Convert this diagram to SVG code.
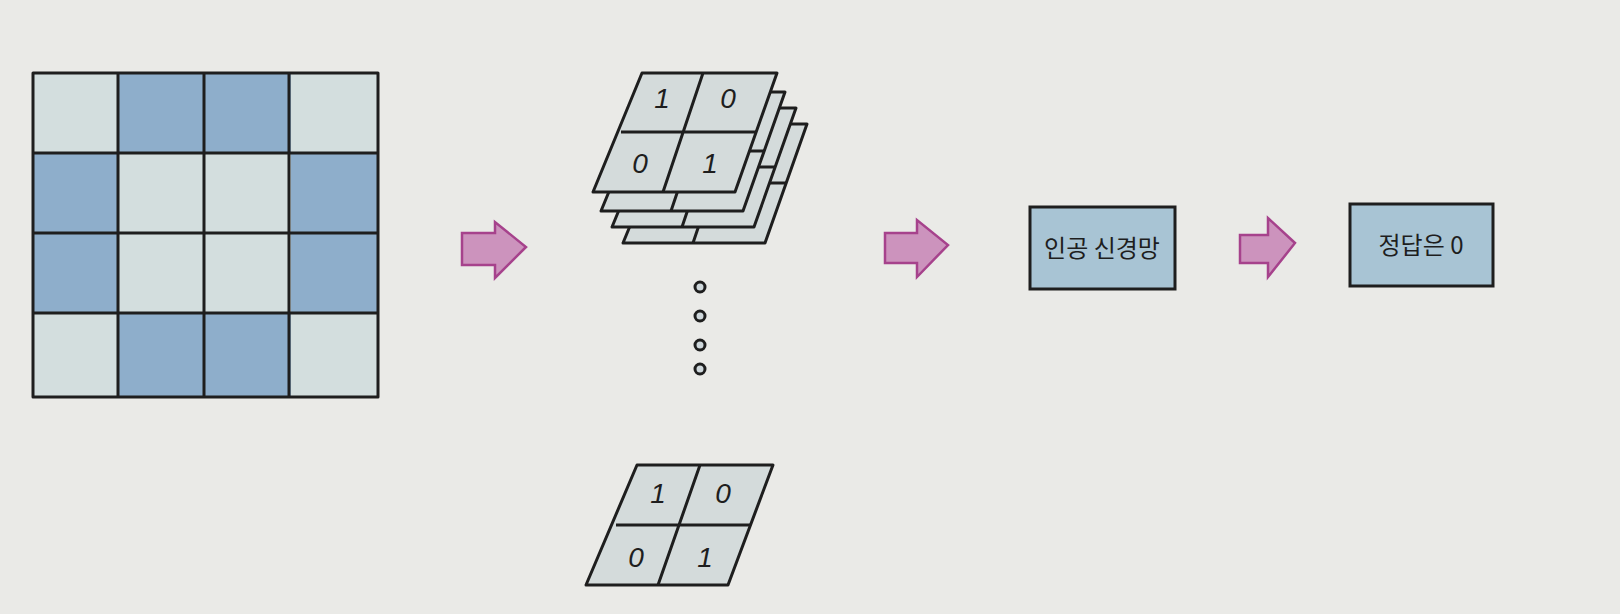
<svg xmlns="http://www.w3.org/2000/svg" width="1620" height="614" viewBox="0 0 1620 614">
<style>
.ln{stroke:#1e1e1e;stroke-width:3;stroke-linejoin:round;}
.lt{fill:#d3dede;}
.dk{fill:#8eaecb;}
.pl{fill:#d4dbdb;stroke:#1e1e1e;stroke-width:3;stroke-linejoin:round;}
.dv{fill:none;stroke:#1e1e1e;stroke-width:3;}
.dg{font-family:"Liberation Sans",sans-serif;font-style:italic;font-size:28px;fill:#1e1e1e;text-anchor:middle;}
.bx{fill:#a8c4d4;stroke:#1e1e1e;stroke-width:3;}
.lb{font-family:"Noto Sans CJK KR","Noto Sans",sans-serif;font-size:24px;fill:#1e1e1e;text-anchor:middle;}
.ar{fill:#cc93bd;stroke:#a6428c;stroke-width:2.5;stroke-linejoin:miter;}
.dot{fill:#cfd8dc;stroke:#1e1e1e;stroke-width:3;}
</style>
<rect width="1620" height="614" fill="#eaeae7"/>

<g id="grid">
<rect class="lt" x="33" y="73" width="86" height="81"/>
<rect class="dk" x="119" y="73" width="86" height="81"/>
<rect class="dk" x="205" y="73" width="86" height="81"/>
<rect class="lt" x="291" y="73" width="87" height="81"/>
<rect class="dk" x="33" y="154" width="86" height="80"/>
<rect class="lt" x="119" y="154" width="86" height="80"/>
<rect class="lt" x="205" y="154" width="86" height="80"/>
<rect class="dk" x="291" y="154" width="87" height="80"/>
<rect class="dk" x="33" y="234" width="86" height="80"/>
<rect class="lt" x="119" y="234" width="86" height="80"/>
<rect class="lt" x="205" y="234" width="86" height="80"/>
<rect class="dk" x="291" y="234" width="87" height="80"/>
<rect class="lt" x="33" y="314" width="86" height="83"/>
<rect class="dk" x="119" y="314" width="86" height="83"/>
<rect class="dk" x="205" y="314" width="86" height="83"/>
<rect class="lt" x="291" y="314" width="87" height="83"/>
<rect x="33" y="73" width="345" height="324" fill="none" class="ln"/>
<path class="ln" fill="none" d="M118 73V397M204 73V397M289 73V397M33 153H378M33 233H378M33 313H378"/>
</g>

<g id="feature-stack">
<g transform="translate(30,51)">
<polygon class="pl" points="642,73 777,73 735,192 593,192"/>
<path class="dv" d="M703 73L663 192M621 132H756"/>
</g>
<g transform="translate(19,35)">
<polygon class="pl" points="642,73 777,73 735,192 593,192"/>
<path class="dv" d="M703 73L663 192M621 132H756"/>
</g>
<g transform="translate(8,19)">
<polygon class="pl" points="642,73 777,73 735,192 593,192"/>
<path class="dv" d="M703 73L663 192M621 132H756"/>
</g>
<polygon class="pl" points="642,73 777,73 735,192 593,192"/>
<path class="dv" d="M703 73L663 192M621 132H756"/>
<text class="dg" x="662" y="108">1</text>
<text class="dg" x="728" y="108">0</text>
<text class="dg" x="640" y="173">0</text>
<text class="dg" x="710" y="173">1</text>
</g>

<g id="ellipsis">
<circle class="dot" cx="700" cy="287" r="5"/>
<circle class="dot" cx="700" cy="316" r="5"/>
<circle class="dot" cx="700" cy="345" r="5"/>
<circle class="dot" cx="700" cy="369" r="5"/>
</g>

<g id="feature-last">
<polygon class="pl" points="637,465 773,465 728,585 586,585"/>
<path class="dv" d="M700 465L658 585M616 525H751"/>
<text class="dg" x="658" y="503">1</text>
<text class="dg" x="723" y="503">0</text>
<text class="dg" x="636" y="567">0</text>
<text class="dg" x="705" y="567">1</text>
</g>

<g id="nn-box">
<rect class="bx" x="1030" y="207" width="145" height="82"/>
<text class="lb" x="1102" y="257">인공 신경망</text>
</g>

<g id="answer-box">
<rect class="bx" x="1350" y="204" width="143" height="82"/>
<text class="lb" x="1421" y="254">정답은 0</text>
</g>

<g id="connectors">
<polygon class="ar" points="462,233 495,233 495,222 526,247 495,278 495,265 462,265"/>
<polygon class="ar" points="885,233 917,233 917,220 948,245 917,277 917,263 885,263"/>
<polygon class="ar" points="1240,235 1268,235 1268,218 1295,243 1268,277 1268,263 1240,263"/>
</g>
</svg>
